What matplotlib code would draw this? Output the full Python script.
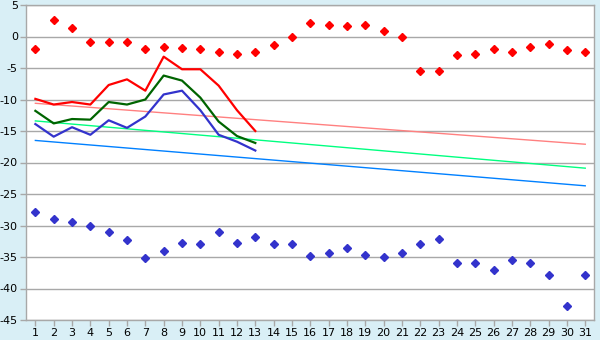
import matplotlib
matplotlib.use("Agg")
import matplotlib.pyplot as plt
import numpy as np

matplotlib.rcParams['font.family'] = 'DejaVu Sans'
matplotlib.rcParams['font.size'] = 8
matplotlib.rcParams['axes.unicode_minus'] = False

# day of month
days = list(range(1, 32))

# scattered diamond series
red_points = [-2.0, 2.6, 1.3, -0.8, -0.8, -0.8, -2.0, -1.7, -1.9, -2.0,
              -2.5, -2.8, -2.5, -1.4, 0.0, 2.1, 1.8, 1.6, 1.8, 0.8,
              -0.1, -5.4, -5.5, -3.0, -2.7, -2.0, -2.5, -1.7, -1.2, -2.2, -2.5]
blue_points = [-27.8, -29.0, -29.5, -30.0, -31.1, -32.3, -35.2, -34.1, -32.8, -33.0,
               -31.1, -32.8, -31.9, -33.0, -33.0, -34.9, -34.4, -33.6, -34.7, -35.0,
               -34.4, -33.0, -32.2, -36.0, -36.0, -37.1, -35.5, -36.0, -37.8, -42.8, -37.8]

# line series, first 13 days
line_days = list(range(1, 14))
red_line = [-9.9, -10.8, -10.4, -10.8, -7.7, -6.8, -8.6, -3.2, -5.2, -5.2, -7.8, -11.7, -15.0]
green_line = [-11.8, -13.8, -13.1, -13.2, -10.4, -10.8, -10.0, -6.2, -7.0, -9.7, -13.5, -15.8, -16.9]
blue_line = [-13.9, -15.9, -14.4, -15.6, -13.3, -14.5, -12.7, -9.2, -8.6, -11.7, -15.6, -16.7, -18.1]

# straight trend lines (end points)
trend_days = [1, 31]
trend_red = [-10.6, -17.1]
trend_green = [-13.4, -20.9]
trend_blue = [-16.5, -23.7]

BG = '#d9eff6'
GRID = '#a8a8a8'

fig = plt.figure(figsize=(6, 3.4), dpi=100)
fig.patch.set_facecolor(BG)
ax = fig.add_axes([26.2 / 600, 20 / 340, 568.2 / 600, 315 / 340])
ax.set_facecolor('white')

"""
Data part
"""
ax.plot(trend_days, trend_red, color='#ff8080', linewidth=1.0, zorder=2)
ax.plot(trend_days, trend_green, color='#00ff80', linewidth=1.0, zorder=2)
ax.plot(trend_days, trend_blue, color='#0080ff', linewidth=1.0, zorder=2)

ax.plot(line_days, red_line, color='#ff0000', linewidth=1.6, zorder=3)
ax.plot(line_days, green_line, color='#006400', linewidth=1.6, zorder=3)
ax.plot(line_days, blue_line, color='#3333cc', linewidth=1.6, zorder=3)

ax.plot(days, red_points, 'D', color='#ff0000', markersize=3.6, zorder=4)
ax.plot(days, blue_points, 'D', color='#3333cc', markersize=3.6, zorder=4)

"""
Set range
"""
ax.set_xlim(0.5, 31.5)
ax.set_ylim(-45, 5)
ax.set_xticks(days)
ax.set_yticks(np.arange(-45, 6, 5))
ax.yaxis.grid(True, color=GRID, linewidth=1.0)
ax.set_axisbelow(True)

for s in ax.spines.values():
    s.set_color(GRID)
    s.set_linewidth(1.0)

ax.tick_params(axis='both', colors=GRID, labelcolor='black', length=4, width=1.0, pad=2)

fig.savefig("out.png", dpi=100, facecolor=BG)
plt.close()
